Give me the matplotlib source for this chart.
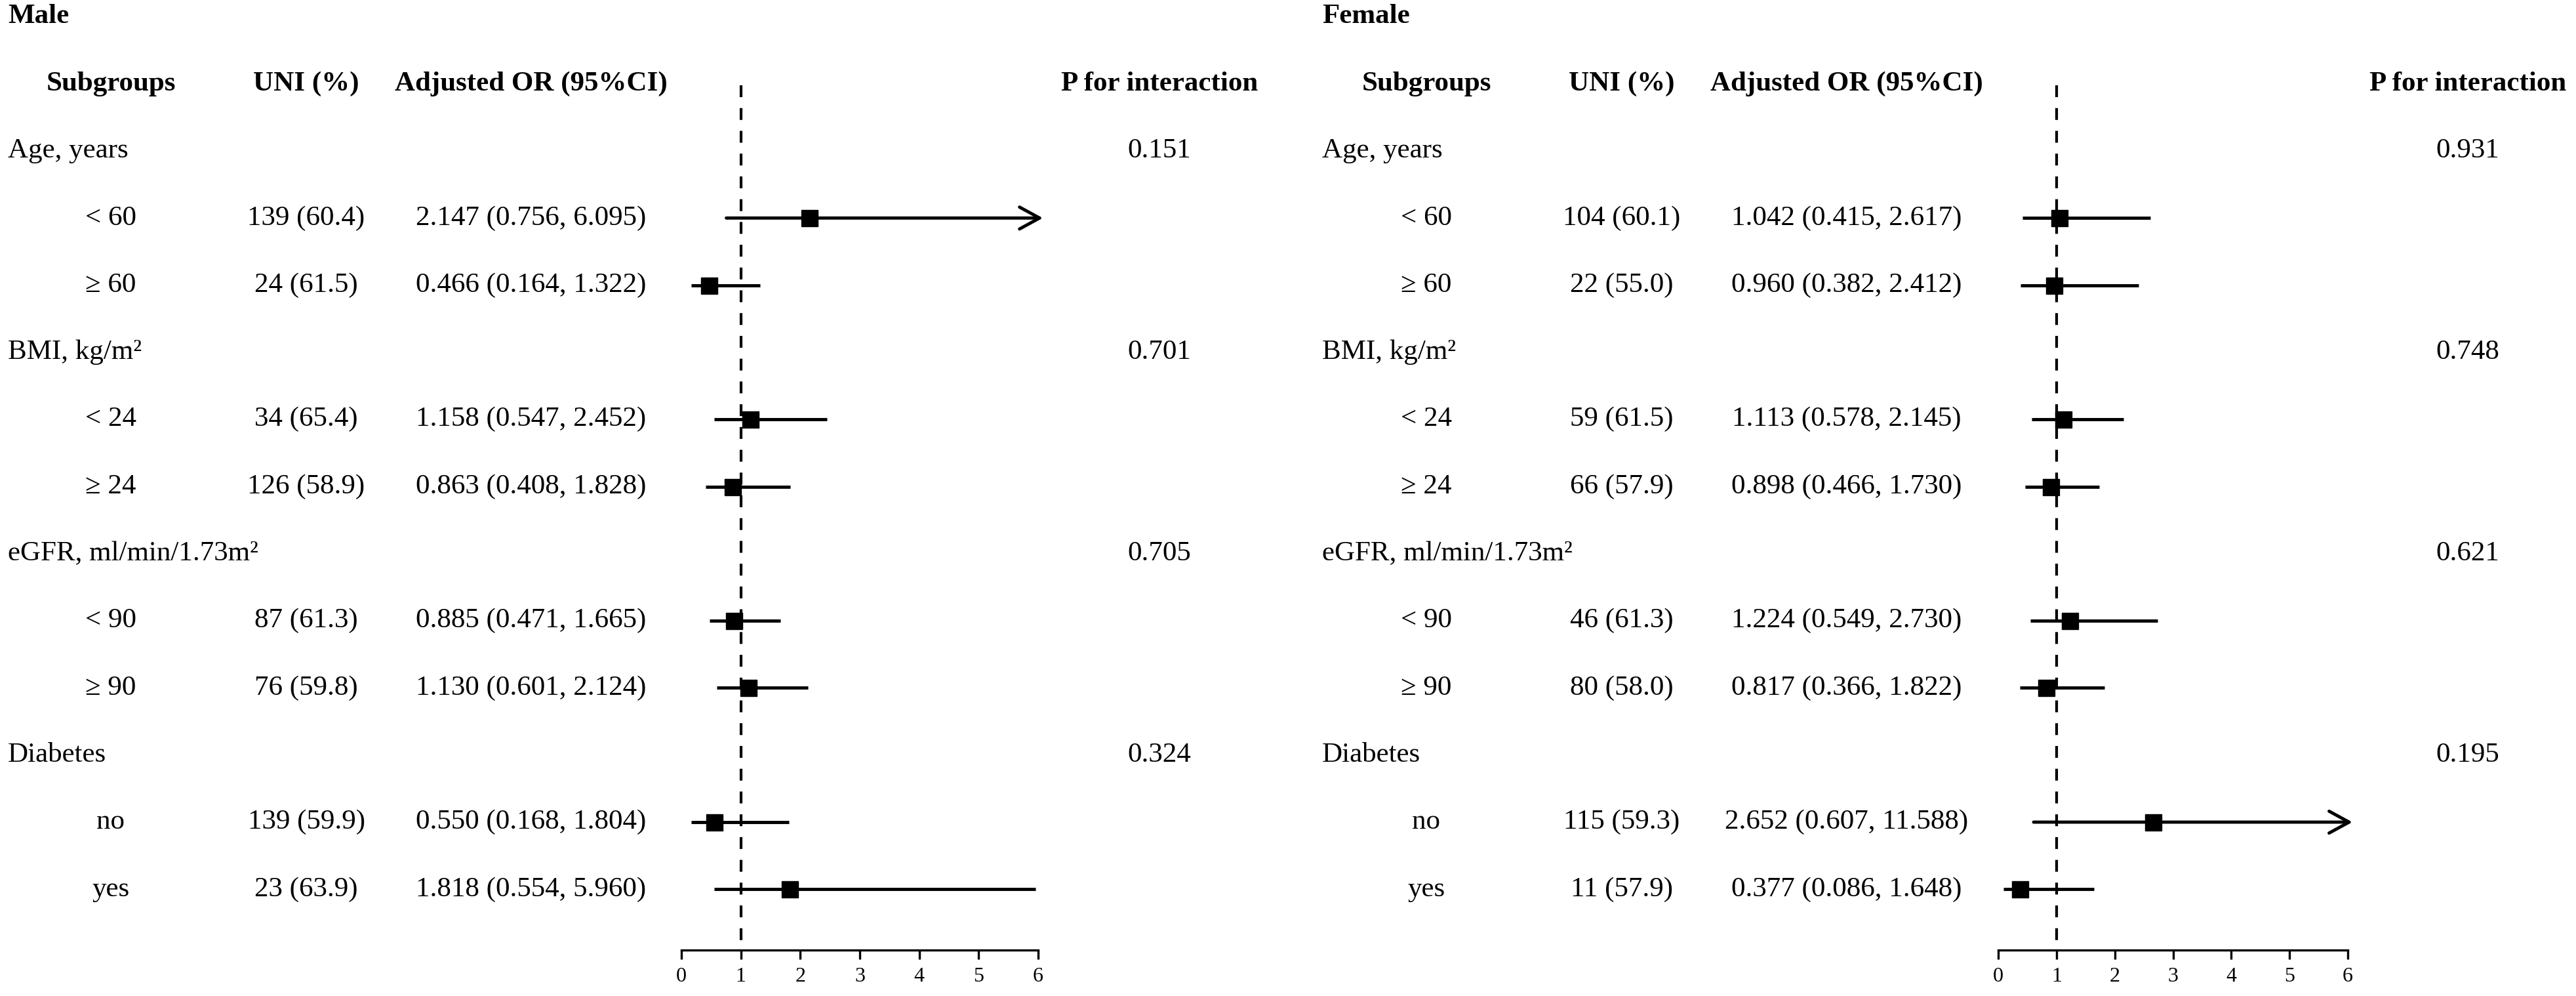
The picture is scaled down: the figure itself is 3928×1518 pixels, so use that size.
import matplotlib
matplotlib.use('Agg')
import matplotlib.pyplot as plt
import matplotlib.transforms as mtransforms

plt.rcParams['font.family'] = ['Liberation Serif', 'DejaVu Serif']
plt.rcParams['lines.scale_dashes'] = False

# ---- data ----
groups = ['Age, years', 'BMI, kg/m\u00b2', 'eGFR, ml/min/1.73m\u00b2', 'Diabetes']
levels = ['< 60', '\u2265 60', '< 24', '\u2265 24', '< 90', '\u2265 90', 'no', 'yes']

male_count = [139, 24, 34, 126, 87, 76, 139, 23]
male_pct = [60.4, 61.5, 65.4, 58.9, 61.3, 59.8, 59.9, 63.9]
male_or = [2.147, 0.466, 1.158, 0.863, 0.885, 1.130, 0.550, 1.818]
male_lo = [0.756, 0.164, 0.547, 0.408, 0.471, 0.601, 0.168, 0.554]
male_hi = [6.095, 1.322, 2.452, 1.828, 1.665, 2.124, 1.804, 5.960]
male_p = ['0.151', '0.701', '0.705', '0.324']

female_count = [104, 22, 59, 66, 46, 80, 115, 11]
female_pct = [60.1, 55.0, 61.5, 57.9, 61.3, 58.0, 59.3, 57.9]
female_or = [1.042, 0.960, 1.113, 0.898, 1.224, 0.817, 2.652, 0.377]
female_lo = [0.415, 0.382, 0.578, 0.466, 0.549, 0.366, 0.607, 0.086]
female_hi = [2.617, 2.412, 2.145, 1.730, 2.730, 1.822, 11.588, 1.648]
female_p = ['0.931', '0.748', '0.621', '0.195']

headers = ['Subgroups', 'UNI (%)', 'Adjusted OR (95%CI)', 'P for interaction']

# ---- layout (pixels) ----
W, H = 3928, 1518
DPI = 100
FS = 31
ROW0, ROW_STEP = 230, 102.3
AX_TOP, AX_BOT = 130, 1448
XMAX = 6
ARROW_TIP = 6.08

fig = plt.figure(figsize=(W / DPI, H / DPI), dpi=DPI)


def row_of(px):
    return (px - ROW0) / ROW_STEP


def draw_panel(title, left, sub_x, uni_x, or_x, p_x, fx0, fx1,
               count, pct, odds, lo, hi, pvals):
    ax = fig.add_axes([fx0 / W, 1 - AX_BOT / H, (fx1 - fx0) / W, (AX_BOT - AX_TOP) / H])
    ax.set_xlim(0, XMAX)
    ax.set_ylim(row_of(AX_BOT), row_of(AX_TOP))
    for s in ['left', 'right', 'top']:
        ax.spines[s].set_visible(False)
    ax.spines['bottom'].set_linewidth(2.4)
    ax.spines['bottom'].set_bounds(0, XMAX)
    ax.set_yticks([])
    ax.set_xticks(range(XMAX + 1))
    ax.tick_params(axis='x', length=10, width=2.4, labelsize=23, pad=9)
    ax.patch.set_alpha(0)

    # reference line at OR = 1
    ax.plot([1, 1], [row_of(AX_TOP), row_of(AX_BOT - 10)], color='black',
            lw=3, dashes=(13, 12))

    tr = mtransforms.blended_transform_factory(fig.transFigure, ax.transData)

    def put(xpx, r, s, ha='center', bold=False):
        ax.text(xpx / W, r, s, transform=tr, ha=ha, va='center', fontsize=FS,
                fontweight='bold' if bold else 'normal', color='black')

    put(left, -2, title, ha='left', bold=True)
    for x, h in zip([sub_x, uni_x, or_x, p_x], headers):
        put(x, -1, h, bold=True)

    for g, name in enumerate(groups):
        put(left, 3 * g, name, ha='left')
        put(p_x, 3 * g, pvals[g])

    for i, lev in enumerate(levels):
        r = 3 * (i // 2) + 1 + i % 2
        put(sub_x, r, lev)
        put(uni_x, r, f'{count[i]} ({pct[i]:.1f})')
        put(or_x, r, f'{odds[i]:.3f} ({lo[i]:.3f}, {hi[i]:.3f})')
        if hi[i] > XMAX:
            ax.annotate('', xy=(ARROW_TIP, r), xytext=(lo[i], r),
                        arrowprops=dict(arrowstyle='->,head_length=0.55,head_width=0.3',
                                        lw=3.5, color='black', shrinkA=0, shrinkB=0,
                                        mutation_scale=40),
                        annotation_clip=False)
        else:
            ax.plot([lo[i], hi[i]], [r, r], color='black', lw=3.5, solid_capstyle='butt')
        ax.plot(odds[i], r, 's', ms=18, color='black', clip_on=False)


draw_panel('Male', 12, 169, 467, 810, 1768, 1039, 1583,
           male_count, male_pct, male_or, male_lo, male_hi, male_p)
draw_panel('Female', 2016, 2175, 2473, 2816, 3763, 3047, 3580,
           female_count, female_pct, female_or, female_lo, female_hi, female_p)

fig.savefig('out.png', dpi=DPI)
